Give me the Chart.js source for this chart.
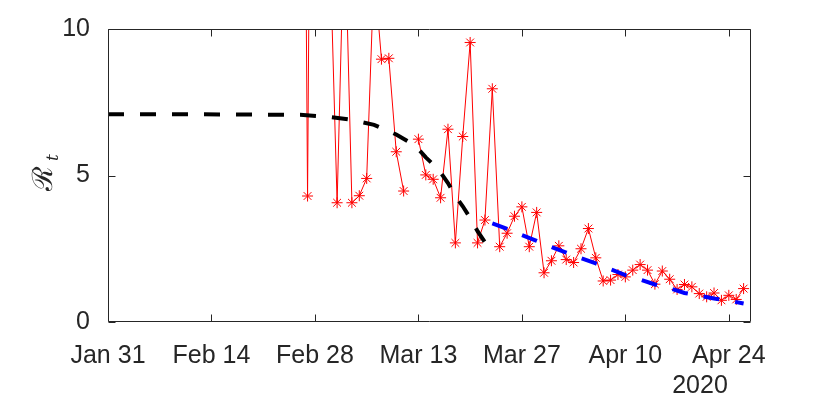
<!DOCTYPE html>
<html>
<head>
<meta charset="utf-8">
<script src="https://cdn.jsdelivr.net/npm/chart.js@4/dist/chart.umd.min.js"></script>
<style>
  html, body { margin: 0; padding: 0; background: #fff; }
  #rt-chart { display: block; }
</style>
</head>
<body>
<canvas id="rt-chart" width="830" height="398"></canvas>
<script>
// x 轴：从 Jan 31 起的天数
const tickDays = [0, 14, 28, 42, 56, 70, 84];
const tickLabels = ['Jan 31', 'Feb 14', 'Feb 28', 'Mar 13', 'Mar 27', 'Apr 10', 'Apr 24'];
const yTicks = [0, 5, 10];

// 每日估计值（红色星号），从第 26 天开始，null 表示缺失
const obsStartDay = 26;
const obsValues = [
  40, 4.30, 40, 22, 13, 4.07, 14, 4.07, 4.31, 4.90,
  12, 8.97, 9.00, 5.81, 4.47, null, 6.24, 5.02, 4.87, 4.24,
  6.58, 2.70, 6.33, 9.54, 2.70, 3.48, 7.96, 2.57, 3.03, 3.61,
  3.93, 2.57, 3.74, 1.68, 2.09, 2.60, 2.13, 2.03, 2.50, 3.19,
  2.19, 1.40, 1.43, 1.62, 1.54, 1.77, 1.96, 1.77, 1.29, 1.74,
  1.46, 1.11, 1.28, 1.20, 0.97, 0.86, 0.99, 0.74, 0.91, 0.77,
  1.14
];

// 黑色虚线（前段拟合）
const fitDaysA = [0, 10, 20, 26, 30, 33, 36, 39, 41, 42, 43, 44, 45, 46, 47, 48, 49, 50, 51, 52];
const fitValuesA = [7.09, 7.09, 7.08, 7.07, 7.0, 6.9, 6.73, 6.4, 6.1, 5.9, 5.62, 5.38, 5.1, 4.74, 4.3, 3.95, 3.55, 3.1, 2.72, 2.4];

// 蓝色虚线（后段拟合）
const fitDaysB = [52, 54, 56, 58, 60, 62, 64, 66, 68, 70, 72, 74, 76, 78, 80, 82, 84, 86];
const fitValuesB = [3.37, 3.18, 2.97, 2.77, 2.56, 2.37, 2.18, 2.0, 1.8, 1.6, 1.45, 1.28, 1.15, 0.99, 0.9, 0.8, 0.73, 0.63];

const axisColor = '#262626';
const labelFont = { family: "'Liberation Sans', Arial, Helvetica, sans-serif", size: 25 };

const toPoints = (xs, ys) => xs.map((x, i) => ({ x, y: ys[i] }));
const obsPoints = obsValues.map((v, i) => ({ x: obsStartDay + i, y: v }));

// 画外框、内向刻度、年份和 y 轴标签
const boxPlugin = {
  id: 'boxPlugin',
  afterDraw(chart) {
    const { ctx, chartArea: a, scales } = chart;
    const L = Math.round(a.left) + 0.5, R = Math.round(a.right) - 0.5;
    const T = Math.round(a.top) + 0.5, B = Math.round(a.bottom) - 0.5;
    const tl = 7;
    ctx.save();
    ctx.strokeStyle = axisColor;
    ctx.lineWidth = 1;
    ctx.beginPath();
    ctx.rect(L, T, R - L, B - T);
    tickDays.forEach(d => {
      const x = Math.round(scales.x.getPixelForValue(d)) + 0.5;
      ctx.moveTo(x, B); ctx.lineTo(x, B - tl);
      ctx.moveTo(x, T); ctx.lineTo(x, T + tl);
    });
    yTicks.forEach(v => {
      const y = Math.round(scales.y.getPixelForValue(v)) + 0.5;
      ctx.moveTo(L, y); ctx.lineTo(L + tl, y);
      ctx.moveTo(R, y); ctx.lineTo(R - tl, y);
    });
    ctx.stroke();

    ctx.fillStyle = axisColor;
    ctx.font = `${labelFont.size}px ${labelFont.family}`;
    ctx.textAlign = 'center';
    ctx.textBaseline = 'alphabetic';
    ctx.fillText('2020', 700, 393);

    ctx.translate(0, 0);
    ctx.rotate(-Math.PI / 2);
    ctx.textAlign = 'left';
    ctx.font = "28px 'DejaVu Serif', serif";
    ctx.fillText('ℛ', -191, 52);
    ctx.font = "italic 17px 'DejaVu Serif', serif";
    ctx.fillText('t', -161, 58);
    ctx.restore();
  }
};

new Chart(document.getElementById('rt-chart'), {
  type: 'line',
  data: {
    datasets: [
      {
        label: 'fit A',
        data: toPoints(fitDaysA, fitValuesA),
        borderColor: '#000000',
        borderWidth: 4,
        borderDash: [16, 16],
        pointRadius: 0,
        tension: 0
      },
      {
        label: 'fit B',
        data: toPoints(fitDaysB, fitValuesB),
        borderColor: '#0000ff',
        borderWidth: 4,
        borderDash: [16, 16],
        pointRadius: 0,
        tension: 0
      },
      {
        label: 'Rt',
        data: obsPoints,
        borderColor: '#ff0000',
        borderWidth: 1,
        pointStyle: 'star',
        pointRadius: 5.5,
        pointBorderColor: '#ff0000',
        pointBorderWidth: 1,
        pointBackgroundColor: 'transparent',
        spanGaps: false,
        tension: 0
      }
    ]
  },
  options: {
    responsive: false,
    animation: false,
    layout: { padding: { top: 29, right: 79, bottom: 0, left: 0 } },
    plugins: { legend: { display: false }, tooltip: { enabled: false } },
    scales: {
      x: {
        type: 'linear',
        min: 0,
        max: 87,
        grid: { display: false },
        border: { display: false },
        afterBuildTicks: scale => { scale.ticks = tickDays.map(v => ({ value: v })); },
        afterFit: scale => { scale.height = 76; },
        ticks: {
          color: axisColor,
          font: labelFont,
          padding: 11,
          maxRotation: 0,
          autoSkip: false,
          callback: v => tickLabels[tickDays.indexOf(v)]
        }
      },
      y: {
        min: 0,
        max: 10,
        grid: { display: false },
        border: { display: false },
        afterBuildTicks: scale => { scale.ticks = yTicks.map(v => ({ value: v })); },
        afterFit: scale => { scale.width = 108; },
        ticks: { color: axisColor, font: labelFont, padding: 10 }
      }
    }
  },
  plugins: [boxPlugin]
});
</script>
</body>
</html>
